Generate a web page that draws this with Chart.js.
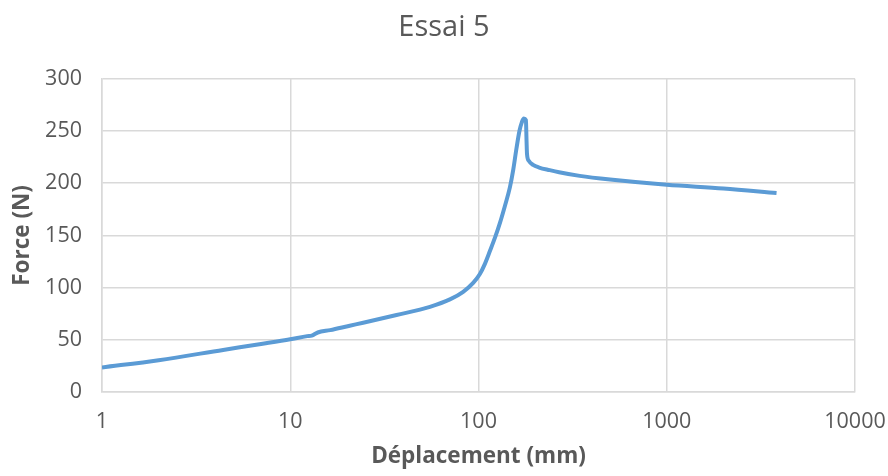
<!DOCTYPE html>
<html>
<head>
<meta charset="utf-8">
<script src="https://cdn.jsdelivr.net/npm/chart.js@4/dist/chart.umd.min.js"></script>
<style>
  html, body { margin: 0; padding: 0; background: #ffffff; }
  #essaiChart { display: block; }
</style>
</head>
<body>
<canvas id="essaiChart" width="888" height="476"></canvas>
<script>
// donnees
const deplacements = [1, 2, 4.4, 7, 10, 12.3, 13, 14, 16.3, 20.7, 24.4, 36.7, 55.2, 70.5, 82.9, 93.7, 101.7,
    108, 115, 123, 130, 138, 146.8, 153, 159, 165, 170, 174, 178.6, 180, 181, 185, 195, 210, 239, 268, 345,
    500, 1000, 2000, 3830];
const forces = [23.5, 30.5, 40.3, 46, 50.5, 53.5, 54, 57, 59.3, 63.5, 66.3, 73.7, 81.6, 88.7, 96, 104.5, 113,
    122.5, 135, 149, 162, 178, 196, 213, 233, 250, 258.5, 262, 260.5, 240, 228, 221.5, 217.5, 215, 212.5, 210.5, 207,
    203.5, 198.5, 195, 190.6];
const xTicks = [1, 10, 100, 1000, 10000];
const yTicks = [0, 50, 100, 150, 200, 250, 300];

const GRIS_TEXTE = '#595959';
const GRIS_GRILLE = '#d9d9d9';
const BLEU = '#5b9bd5';
const POLICE = "'Open Sans', 'Liberation Sans', sans-serif";

let points = [];
for (let i = 0; i < deplacements.length; i++) {
    points.push({x: deplacements[i], y: forces[i]});
}

let chart = new Chart(document.querySelector('#essaiChart'), {
    type: 'scatter',
    data: {
        datasets: [{
            data: points,
            showLine: true,
            borderColor: BLEU,
            backgroundColor: BLEU,
            borderWidth: 4,
            pointRadius: 0,
            cubicInterpolationMode: 'monotone'
        }]
    },
    options: {
        responsive: false,
        animation: false,
        layout: { padding: 0 },
        plugins: {
            legend: { display: false },
            tooltip: { enabled: false },
            title: {
                display: true,
                text: 'Essai 5',
                color: GRIS_TEXTE,
                font: { family: POLICE, size: 29, weight: 'normal' },
                padding: { top: 10, bottom: 34 }
            }
        },
        scales: {
            x: {
                type: 'logarithmic',
                min: 1,
                max: 10000,
                afterBuildTicks: (scale) => {
                    scale.ticks = xTicks.map(v => ({value: v}));
                },
                afterFit: (scale) => {
                    // place fixe pour le dernier label, a droite
                    scale.height = 84;
                    scale.paddingLeft = 0;
                    scale.paddingRight = 33;
                },
                ticks: {
                    color: GRIS_TEXTE,
                    font: { family: POLICE, size: 21.5 },
                    padding: 17,
                    maxRotation: 0,
                    callback: (v) => String(v)
                },
                grid: { color: GRIS_GRILLE, lineWidth: 1.5, drawTicks: false },
                border: { color: GRIS_GRILLE, width: 1.5 },
                title: {
                    display: true,
                    text: 'Déplacement (mm)',
                    color: GRIS_TEXTE,
                    font: { family: POLICE, size: 22.5, weight: 'bold' },
                    padding: { top: 0, bottom: 6 }
                }
            },
            y: {
                min: 0,
                max: 300,
                afterBuildTicks: (scale) => {
                    scale.ticks = yTicks.map(v => ({value: v}));
                },
                afterFit: (scale) => { scale.width = 102; },
                ticks: {
                    color: GRIS_TEXTE,
                    font: { family: POLICE, size: 21.5 },
                    padding: 20
                },
                grid: { color: GRIS_GRILLE, lineWidth: 1.5, drawTicks: false },
                border: { color: GRIS_GRILLE, width: 1.5 },
                title: {
                    display: true,
                    text: 'Force (N)',
                    color: GRIS_TEXTE,
                    font: { family: POLICE, size: 22.5, weight: 'bold' },
                    padding: { top: 9, bottom: 0 }
                }
            }
        }
    }
});
</script>
</body>
</html>
